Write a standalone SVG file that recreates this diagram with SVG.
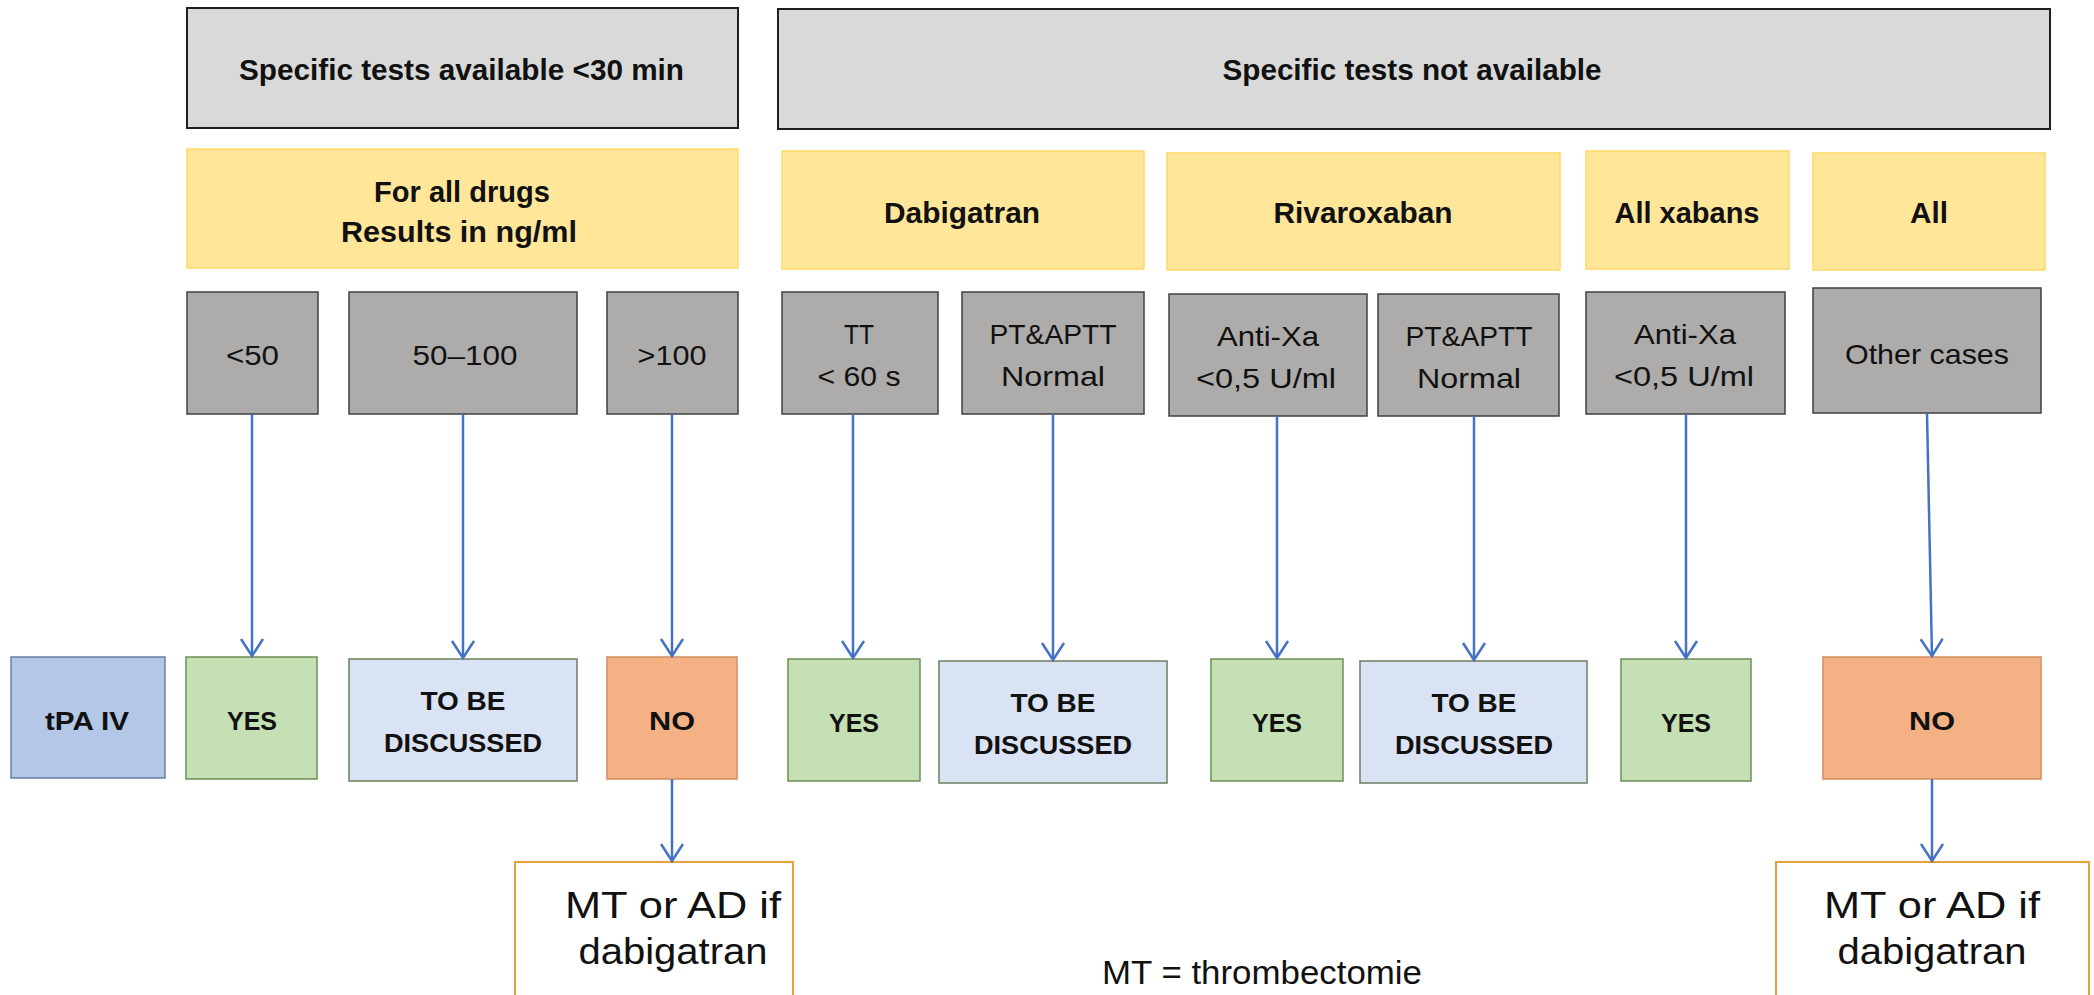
<svg xmlns="http://www.w3.org/2000/svg" width="2094" height="995" viewBox="0 0 2094 995">
<style>
text{font-family:"Liberation Sans",Arial,sans-serif;text-anchor:middle;fill:#111}
.b{font-weight:bold}
.hd{fill:#d9d9d9;stroke:#1f1f1f;stroke-width:2}
.yl{fill:#ffe699;stroke:#ffd966;stroke-width:1.5}
.gr{fill:#aeabab;stroke:#404040;stroke-width:1.5}
.tpa{fill:#b4c7e7;stroke:#6b7fa8;stroke-width:1.5}
.yes{fill:#c5e0b4;stroke:#6e8f55;stroke-width:1.5}
.tbd{fill:#dae3f3;stroke:#6b7f60;stroke-width:1.5}
.no{fill:#f4b183;stroke:#d48f5f;stroke-width:1.5}
.mt{fill:#ffffff;stroke:#e8a03c;stroke-width:2}
.f29{font-size:29px}
.f28{font-size:28px}
.f26{font-size:26px}
.f36{font-size:36px}
.f34{font-size:34px}
.arr{stroke:#4472c4;stroke-width:2.5;fill:none;marker-end:url(#ah)}
</style>
<defs>
<marker id="ah" markerUnits="userSpaceOnUse" markerWidth="30" markerHeight="30" refX="0" refY="0" viewBox="-20 -15 24 30" orient="auto" overflow="visible">
<path d="M-17,-11 L0,0 L-17,11" fill="none" stroke="#4472c4" stroke-width="2.5"/>
</marker>
</defs>
<rect width="2094" height="995" fill="#ffffff"/>

<g id="hdr-available"><rect class="hd" x="187" y="8" width="551" height="120"/><text class="b f29" x="461.5" y="80" textLength="445" lengthAdjust="spacingAndGlyphs">Specific tests available &lt;30 min</text></g>
<g id="hdr-notavailable"><rect class="hd" x="778" y="9" width="1272" height="120"/><text class="b f29" x="1412" y="80" textLength="379" lengthAdjust="spacingAndGlyphs">Specific tests not available</text></g>

<g id="y-alldrugs"><rect class="yl" x="187" y="149" width="551" height="119"/><text class="b f29" x="462" y="202" textLength="176" lengthAdjust="spacingAndGlyphs">For all drugs</text><text class="b f29" x="459" y="242" textLength="236" lengthAdjust="spacingAndGlyphs">Results in ng/ml</text></g>
<g id="y-dabigatran"><rect class="yl" x="782" y="151" width="362" height="118"/><text class="b f29" x="962" y="223" textLength="156" lengthAdjust="spacingAndGlyphs">Dabigatran</text></g>
<g id="y-rivaroxaban"><rect class="yl" x="1167" y="153" width="393" height="117"/><text class="b f29" x="1363" y="223" textLength="179" lengthAdjust="spacingAndGlyphs">Rivaroxaban</text></g>
<g id="y-allxabans"><rect class="yl" x="1586" y="151" width="203" height="118"/><text class="b f29" x="1687" y="223" textLength="145" lengthAdjust="spacingAndGlyphs">All xabans</text></g>
<g id="y-all"><rect class="yl" x="1813" y="153" width="232" height="117"/><text class="b f29" x="1929" y="223" textLength="38" lengthAdjust="spacingAndGlyphs">All</text></g>

<g id="g-lt50"><rect class="gr" x="187" y="292" width="131" height="122"/><text class="f28" x="252.5" y="365" textLength="53" lengthAdjust="spacingAndGlyphs">&lt;50</text></g>
<g id="g-50-100"><rect class="gr" x="349" y="292" width="228" height="122"/><text class="f28" x="465" y="365" textLength="105" lengthAdjust="spacingAndGlyphs">50–100</text></g>
<g id="g-gt100"><rect class="gr" x="607" y="292" width="131" height="122"/><text class="f28" x="672" y="365" textLength="69" lengthAdjust="spacingAndGlyphs">&gt;100</text></g>
<g id="g-tt"><rect class="gr" x="782" y="292" width="156" height="122"/><text class="f28" x="859" y="344" textLength="30" lengthAdjust="spacingAndGlyphs">TT</text><text class="f28" x="859" y="386" textLength="83" lengthAdjust="spacingAndGlyphs">&lt; 60 s</text></g>
<g id="g-ptaptt1"><rect class="gr" x="962" y="292" width="182" height="122"/><text class="f28" x="1053" y="344" textLength="127" lengthAdjust="spacingAndGlyphs">PT&amp;APTT</text><text class="f28" x="1053" y="386" textLength="104" lengthAdjust="spacingAndGlyphs">Normal</text></g>
<g id="g-antixa1"><rect class="gr" x="1169" y="294" width="198" height="122"/><text class="f28" x="1268" y="346" textLength="102" lengthAdjust="spacingAndGlyphs">Anti-Xa</text><text class="f28" x="1266" y="388" textLength="140" lengthAdjust="spacingAndGlyphs">&lt;0,5 U/ml</text></g>
<g id="g-ptaptt2"><rect class="gr" x="1378" y="294" width="181" height="122"/><text class="f28" x="1469" y="346" textLength="127" lengthAdjust="spacingAndGlyphs">PT&amp;APTT</text><text class="f28" x="1469" y="388" textLength="104" lengthAdjust="spacingAndGlyphs">Normal</text></g>
<g id="g-antixa2"><rect class="gr" x="1586" y="292" width="199" height="122"/><text class="f28" x="1685" y="344" textLength="102" lengthAdjust="spacingAndGlyphs">Anti-Xa</text><text class="f28" x="1684" y="386" textLength="140" lengthAdjust="spacingAndGlyphs">&lt;0,5 U/ml</text></g>
<g id="g-other"><rect class="gr" x="1813" y="288" width="228" height="125"/><text class="f28" x="1927" y="364" textLength="164" lengthAdjust="spacingAndGlyphs">Other cases</text></g>

<g id="r-tpa"><rect class="tpa" x="11" y="657" width="154" height="121"/><text class="b f26" x="87" y="730" textLength="84" lengthAdjust="spacingAndGlyphs">tPA IV</text></g>
<g id="r-yes1"><rect class="yes" x="186" y="657" width="131" height="122"/><text class="b f26" x="252" y="730" textLength="50" lengthAdjust="spacingAndGlyphs">YES</text></g>
<g id="r-tbd1"><rect class="tbd" x="349" y="659" width="228" height="122"/><text class="b f26" x="463" y="710" textLength="85" lengthAdjust="spacingAndGlyphs">TO BE</text><text class="b f26" x="463" y="752" textLength="158" lengthAdjust="spacingAndGlyphs">DISCUSSED</text></g>
<g id="r-no1"><rect class="no" x="607" y="657" width="130" height="122"/><text class="b f26" x="672" y="730" textLength="46" lengthAdjust="spacingAndGlyphs">NO</text></g>
<g id="r-yes2"><rect class="yes" x="788" y="659" width="132" height="122"/><text class="b f26" x="854" y="732" textLength="50" lengthAdjust="spacingAndGlyphs">YES</text></g>
<g id="r-tbd2"><rect class="tbd" x="939" y="661" width="228" height="122"/><text class="b f26" x="1053" y="712" textLength="85" lengthAdjust="spacingAndGlyphs">TO BE</text><text class="b f26" x="1053" y="754" textLength="158" lengthAdjust="spacingAndGlyphs">DISCUSSED</text></g>
<g id="r-yes3"><rect class="yes" x="1211" y="659" width="132" height="122"/><text class="b f26" x="1277" y="732" textLength="50" lengthAdjust="spacingAndGlyphs">YES</text></g>
<g id="r-tbd3"><rect class="tbd" x="1360" y="661" width="227" height="122"/><text class="b f26" x="1474" y="712" textLength="85" lengthAdjust="spacingAndGlyphs">TO BE</text><text class="b f26" x="1474" y="754" textLength="158" lengthAdjust="spacingAndGlyphs">DISCUSSED</text></g>
<g id="r-yes4"><rect class="yes" x="1621" y="659" width="130" height="122"/><text class="b f26" x="1686" y="732" textLength="50" lengthAdjust="spacingAndGlyphs">YES</text></g>
<g id="r-no2"><rect class="no" x="1823" y="657" width="218" height="122"/><text class="b f26" x="1932" y="730" textLength="46" lengthAdjust="spacingAndGlyphs">NO</text></g>

<g id="mt1"><rect class="mt" x="515" y="862" width="278" height="150"/><text class="f36" x="673" y="918" textLength="216" lengthAdjust="spacingAndGlyphs">MT or AD if</text><text class="f36" x="673" y="964" textLength="189" lengthAdjust="spacingAndGlyphs">dabigatran</text></g>
<g id="mt2"><rect class="mt" x="1776" y="862" width="313" height="150"/><text class="f36" x="1932" y="918" textLength="216" lengthAdjust="spacingAndGlyphs">MT or AD if</text><text class="f36" x="1932" y="964" textLength="189" lengthAdjust="spacingAndGlyphs">dabigatran</text></g>

<g id="note"><text class="f34" x="1262" y="984" textLength="320" lengthAdjust="spacingAndGlyphs">MT = thrombectomie</text></g>

<g id="connectors">
<line class="arr" x1="252" y1="414" x2="252" y2="656"/>
<line class="arr" x1="463" y1="414" x2="463" y2="658"/>
<line class="arr" x1="672" y1="414" x2="672" y2="656"/>
<line class="arr" x1="853" y1="414" x2="853" y2="658"/>
<line class="arr" x1="1053" y1="414" x2="1053" y2="660"/>
<line class="arr" x1="1277" y1="416" x2="1277" y2="658"/>
<line class="arr" x1="1474" y1="416" x2="1474" y2="660"/>
<line class="arr" x1="1686" y1="414" x2="1686" y2="658"/>
<line class="arr" x1="1927" y1="413" x2="1932" y2="656"/>
<line class="arr" x1="672" y1="779" x2="672" y2="861"/>
<line class="arr" x1="1932" y1="779" x2="1932" y2="861"/>
</g>
</svg>
